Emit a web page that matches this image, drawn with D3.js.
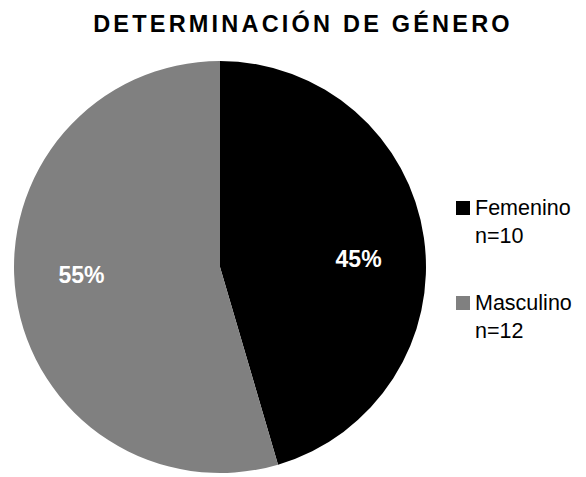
<!DOCTYPE html>
<html>
<head>
<meta charset="utf-8">
<script src="https://cdn.jsdelivr.net/npm/d3@7"></script>
<style>
   body { margin: 0; background: #fff; }
   text { font-family: "Liberation Sans", Arial, sans-serif; }
</style>
</head>
<body>
<div id="chart"></div>
<script>
// chart data
var categories = ["Femenino", "Masculino"];
var counts = [10, 12];
var percentLabels = ["45%", "55%"];
var colors = ["#000000", "#808080"];
var title = "DETERMINACIÓN DE GÉNERO";

/**Draws the pie, the percent labels inside the slices and the legend on the right.
 * @param {*} id the id of the div the svg goes into.
 */
function draw_pie(id) {

   var width = 586, height = 477;
   var cx = 220, cy = 267, radius = 206;

   var svg = d3.select(id)
               .append("svg")
               .attr("width", width)
               .attr("height", height);

   svg.append("text")
      .attr("x", 303)
      .attr("y", 32)
      .attr("text-anchor", "middle")
      .style("font-size", "23.5px")
      .style("font-weight", "bold")
      .style("letter-spacing", "3.2px")
      .text(title);

   var pie = d3.pie()
               .sort(null)
               .value(function(d) { return d; });
   var arcs = pie(counts);

   var arc = d3.arc().innerRadius(0).outerRadius(radius);
   var labelArc = d3.arc().innerRadius(140).outerRadius(140);

   var g = svg.append("g")
              .attr("transform", "translate(" + cx + "," + cy + ")");

   g.selectAll("path")
      .data(arcs)
      .enter()
      .append("path")
      .attr("fill", function(d, i) { return colors[i]; })
      .attr("d", arc);

   g.selectAll(".pct")
      .data(arcs)
      .enter()
      .append("text")
      .classed("pct", true)
      .attr("x", function(d) { return labelArc.centroid(d)[0]; })
      .attr("y", function(d) { return labelArc.centroid(d)[1] * 0.4; })
      .attr("dy", "0.35em")
      .attr("text-anchor", "middle")
      .attr("fill", "#fff")
      .style("font-size", "23px")
      .style("font-weight", "bold")
      .text(function(d, i) { return percentLabels[i]; });

   // legend
   var legend = svg.selectAll(".legend")
                   .data(categories)
                   .enter()
                   .append("g")
                   .classed("legend", true)
                   .attr("transform", function(d, i) { return "translate(456," + (215 + i * 95) + ")"; });

   legend.append("rect")
         .attr("x", 0)
         .attr("y", -14)
         .attr("width", 14)
         .attr("height", 14)
         .attr("fill", function(d, i) { return colors[i]; });

   legend.append("text")
         .attr("x", 19)
         .attr("y", 0)
         .style("font-size", "21.5px")
         .text(function(d) { return d; });

   legend.append("text")
         .attr("x", 19)
         .attr("y", 28)
         .style("font-size", "21.5px")
         .text(function(d, i) { return "n=" + counts[i]; });
}

draw_pie("#chart");
</script>
</body>
</html>
